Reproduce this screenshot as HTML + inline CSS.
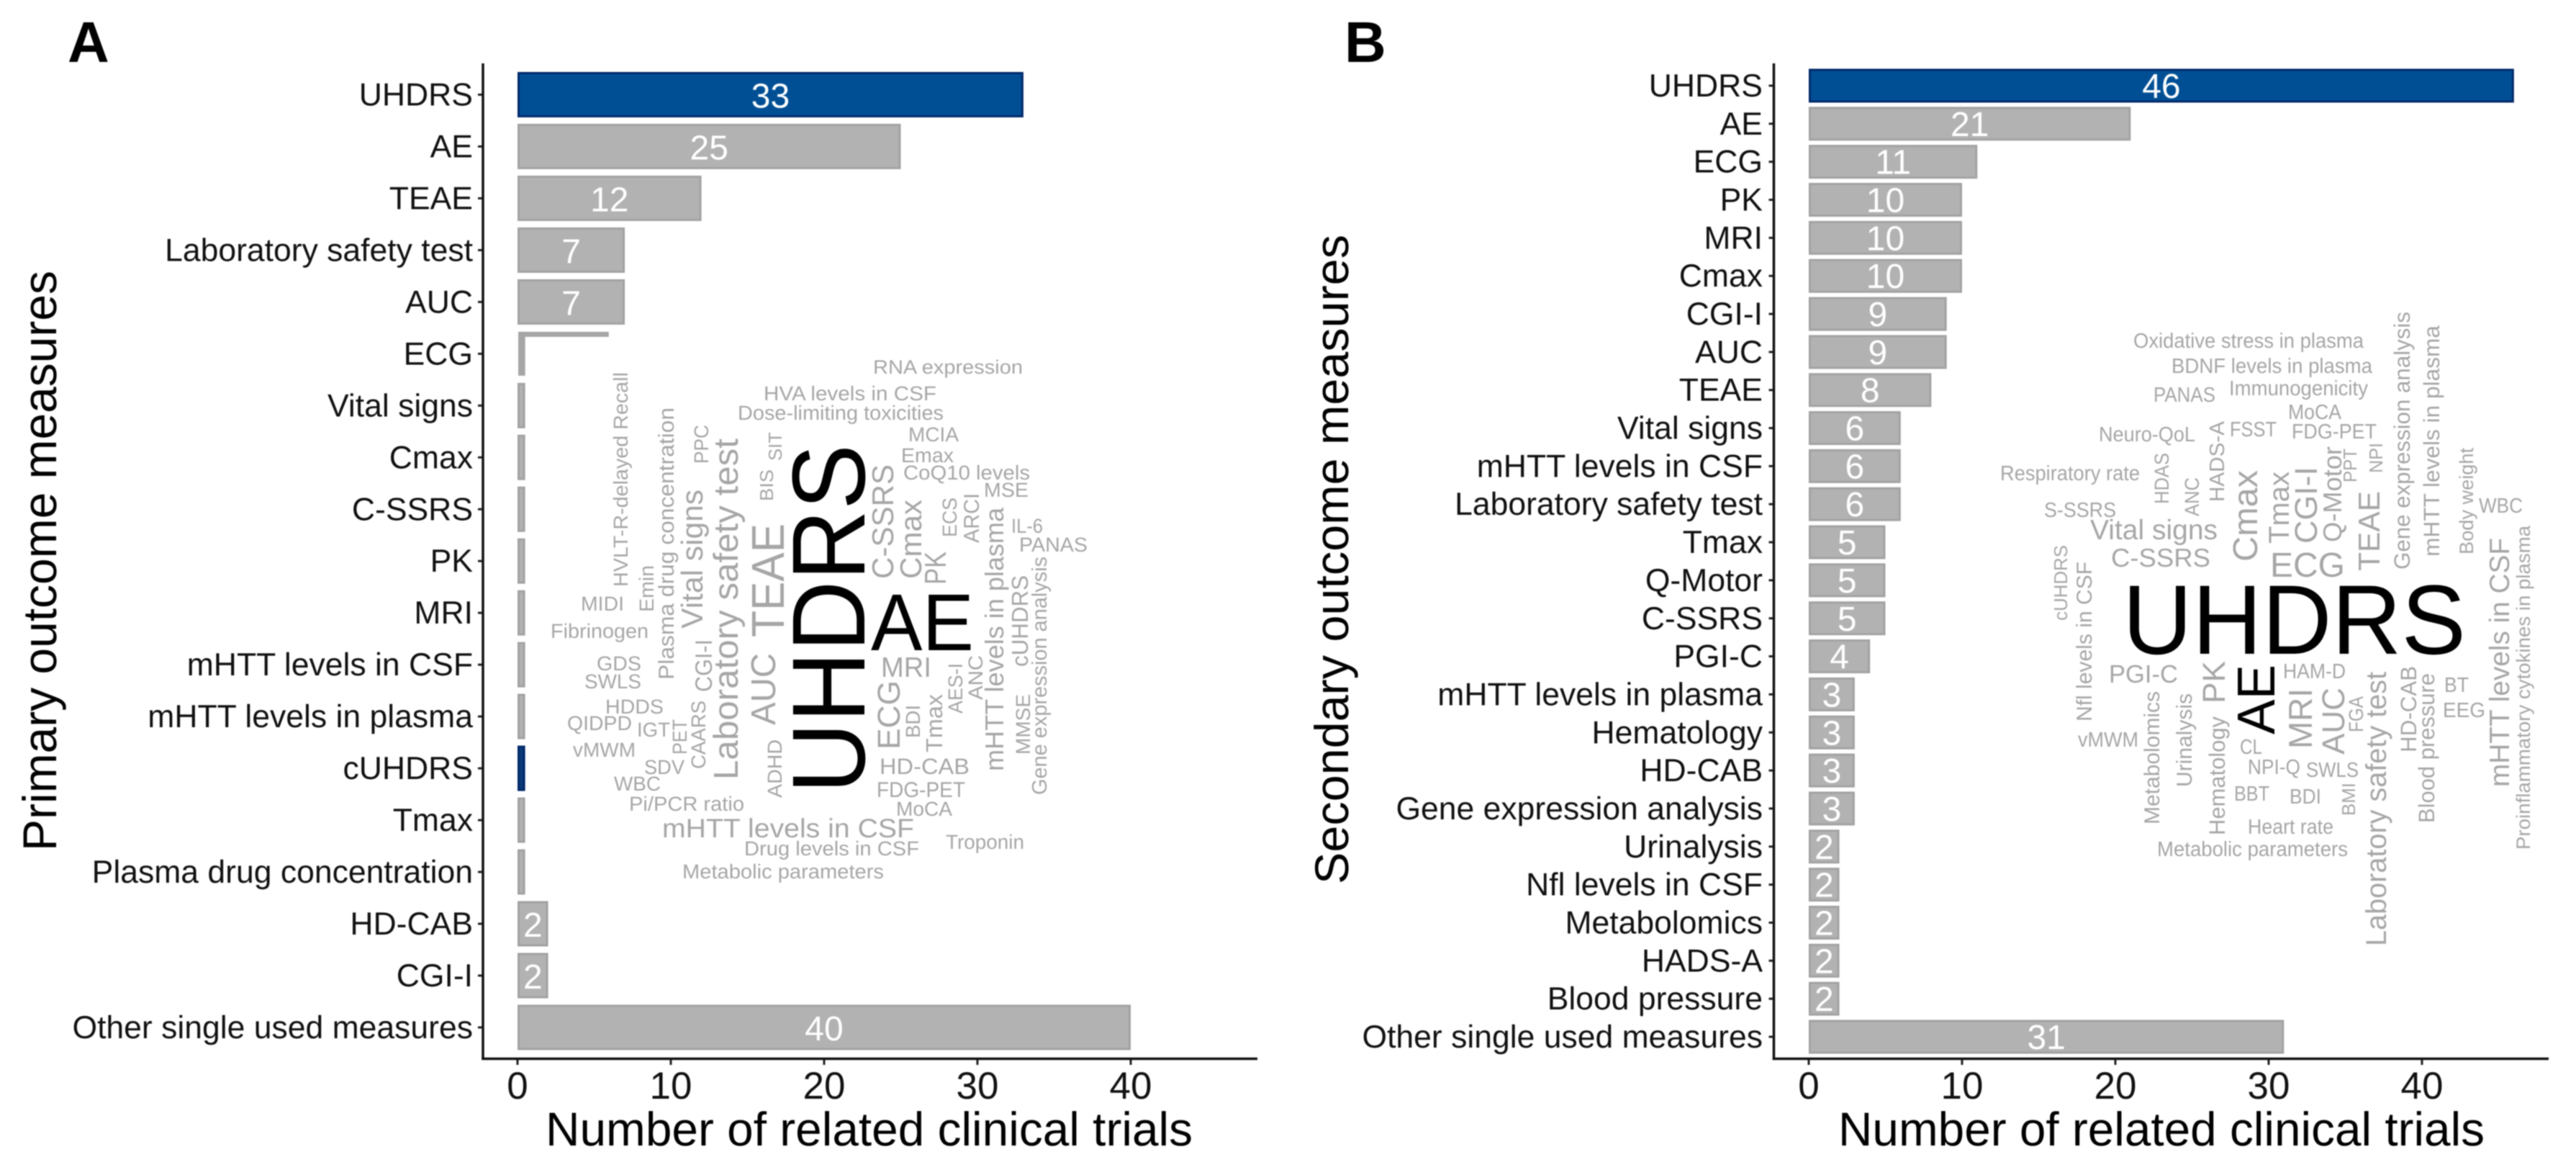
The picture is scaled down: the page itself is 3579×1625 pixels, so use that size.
<!DOCTYPE html>
<html lang="en">
<head>
<meta charset="utf-8">
<title>Outcome measures in clinical trials</title>
<style>
html,body{margin:0;padding:0;background:#fff;width:3579px;height:1625px;overflow:hidden}
svg{display:block;font-family:"Liberation Sans",sans-serif;text-rendering:geometricPrecision;filter:blur(0.7px)}
.w{fill:#a6a6a6}
.k{fill:#000}
</style>
</head>
<body>
<svg id="figure" width="3579" height="1625" viewBox="0 0 3579 1625" xmlns="http://www.w3.org/2000/svg">
<rect width="3579" height="1625" fill="#fff"/>
<text x="94" y="86" font-size="80" font-weight="700" fill="#000">A</text>
<text x="1868" y="86" font-size="80" font-weight="700" fill="#000">B</text>
<text transform="translate(78,1182) rotate(-90)" font-size="66" fill="#000" textLength="806" lengthAdjust="spacingAndGlyphs">Primary outcome measures</text>
<text transform="translate(1873,1228) rotate(-90)" font-size="66" fill="#000" textLength="902" lengthAdjust="spacingAndGlyphs">Secondary outcome measures</text>
<text x="758" y="1591" font-size="66" fill="#000" textLength="899" lengthAdjust="spacingAndGlyphs">Number of related clinical trials</text>
<text x="2554" y="1591" font-size="66" fill="#000" textLength="898" lengthAdjust="spacingAndGlyphs">Number of related clinical trials</text>
<g id="panel-a"></g>
<g id="panel-b"></g>

<g>
<text class="w" x="1213" y="519" font-size="27" textLength="208" lengthAdjust="spacingAndGlyphs">RNA expression</text>
<text class="w" x="1061" y="556" font-size="28" textLength="240" lengthAdjust="spacingAndGlyphs">HVA levels in CSF</text>
<text class="w" x="1025" y="583" font-size="28" textLength="286" lengthAdjust="spacingAndGlyphs">Dose-limiting toxicities</text>
<text class="w" x="1262" y="613" font-size="28" textLength="70" lengthAdjust="spacingAndGlyphs">MCIA</text>
<text class="w" x="1252" y="642" font-size="28" textLength="73" lengthAdjust="spacingAndGlyphs">Emax</text>
<text class="w" x="1255" y="666" font-size="28" textLength="176" lengthAdjust="spacingAndGlyphs">CoQ10 levels</text>
<text class="w" x="1367" y="690" font-size="28" textLength="62" lengthAdjust="spacingAndGlyphs">MSE</text>
<text class="w" x="1405" y="740" font-size="28" textLength="44" lengthAdjust="spacingAndGlyphs">IL-6</text>
<text class="w" x="1416" y="766" font-size="28" textLength="95" lengthAdjust="spacingAndGlyphs">PANAS</text>
<text class="w" x="807" y="848" font-size="28" textLength="60" lengthAdjust="spacingAndGlyphs">MIDI</text>
<text class="w" x="765" y="886" font-size="28" textLength="136" lengthAdjust="spacingAndGlyphs">Fibrinogen</text>
<text class="w" x="829" y="931" font-size="28" textLength="62" lengthAdjust="spacingAndGlyphs">GDS</text>
<text class="w" x="812" y="956" font-size="28" textLength="79" lengthAdjust="spacingAndGlyphs">SWLS</text>
<text class="w" x="841" y="991" font-size="28" textLength="81" lengthAdjust="spacingAndGlyphs">HDDS</text>
<text class="w" x="788" y="1014" font-size="28" textLength="90" lengthAdjust="spacingAndGlyphs">QIDPD</text>
<text class="w" x="885" y="1023" font-size="28" textLength="46" lengthAdjust="spacingAndGlyphs">IGT</text>
<text class="w" x="796" y="1051" font-size="28" textLength="87" lengthAdjust="spacingAndGlyphs">vMWM</text>
<text class="w" x="895" y="1075" font-size="28" textLength="56" lengthAdjust="spacingAndGlyphs">SDV</text>
<text class="w" x="853" y="1098" font-size="28" textLength="65" lengthAdjust="spacingAndGlyphs">WBC</text>
<text class="w" x="874" y="1126" font-size="28" textLength="160" lengthAdjust="spacingAndGlyphs">Pi/PCR ratio</text>
<text class="w" x="920" y="1163" font-size="37" textLength="350" lengthAdjust="spacingAndGlyphs">mHTT levels in CSF</text>
<text class="w" x="1034" y="1188" font-size="28" textLength="243" lengthAdjust="spacingAndGlyphs">Drug levels in CSF</text>
<text class="w" x="948" y="1220" font-size="28" textLength="280" lengthAdjust="spacingAndGlyphs">Metabolic parameters</text>
<text class="w" x="1314" y="1179" font-size="28" textLength="109" lengthAdjust="spacingAndGlyphs">Troponin</text>
<text class="w" x="1222" y="1075" font-size="31" textLength="125" lengthAdjust="spacingAndGlyphs">HD-CAB</text>
<text class="w" x="1218" y="1107" font-size="30" textLength="123" lengthAdjust="spacingAndGlyphs">FDG-PET</text>
<text class="w" x="1245" y="1133" font-size="28" textLength="78" lengthAdjust="spacingAndGlyphs">MoCA</text>
<text class="w" x="1224" y="940" font-size="39" textLength="70" lengthAdjust="spacingAndGlyphs">MRI</text>
<text class="k" x="1210" y="903" font-size="112" textLength="143" lengthAdjust="spacingAndGlyphs">AE</text>
<text class="w" transform="translate(872,815) rotate(-90)" font-size="28" textLength="298" lengthAdjust="spacingAndGlyphs">HVLT-R-delayed Recall</text>
<text class="w" transform="translate(936,944) rotate(-90)" font-size="30" textLength="378" lengthAdjust="spacingAndGlyphs">Plasma drug concentration</text>
<text class="w" transform="translate(908,850) rotate(-90)" font-size="28" textLength="65" lengthAdjust="spacingAndGlyphs">Emin</text>
<text class="w" transform="translate(984,644) rotate(-90)" font-size="28" textLength="54" lengthAdjust="spacingAndGlyphs">PPC</text>
<text class="w" transform="translate(976,873) rotate(-90)" font-size="42" textLength="193" lengthAdjust="spacingAndGlyphs">Vital signs</text>
<text class="w" transform="translate(1025,1083) rotate(-90)" font-size="48" textLength="474" lengthAdjust="spacingAndGlyphs">Laboratory safety test</text>
<text class="w" transform="translate(1074,696) rotate(-90)" font-size="26" textLength="44" lengthAdjust="spacingAndGlyphs">BIS</text>
<text class="w" transform="translate(1086,640) rotate(-90)" font-size="26" textLength="40" lengthAdjust="spacingAndGlyphs">SIT</text>
<text class="w" transform="translate(1089,885) rotate(-90)" font-size="64" textLength="158" lengthAdjust="spacingAndGlyphs">TEAE</text>
<text class="w" transform="translate(1077,1007) rotate(-90)" font-size="48" textLength="100" lengthAdjust="spacingAndGlyphs">AUC</text>
<text class="w" transform="translate(989,961) rotate(-90)" font-size="33" textLength="73" lengthAdjust="spacingAndGlyphs">CGI-I</text>
<text class="w" transform="translate(980,1068) rotate(-90)" font-size="28" textLength="95" lengthAdjust="spacingAndGlyphs">CAARS</text>
<text class="w" transform="translate(954,1048) rotate(-90)" font-size="28" textLength="49" lengthAdjust="spacingAndGlyphs">PET</text>
<text class="w" transform="translate(1086,1108) rotate(-90)" font-size="28" textLength="81" lengthAdjust="spacingAndGlyphs">ADHD</text>
<text class="k" transform="translate(1201,1102) rotate(-90)" font-size="144" textLength="485" lengthAdjust="spacingAndGlyphs">UHDRS</text>
<text class="w" transform="translate(1241,804) rotate(-90)" font-size="42" textLength="159" lengthAdjust="spacingAndGlyphs">C-SSRS</text>
<text class="w" transform="translate(1280,804) rotate(-90)" font-size="42" textLength="110" lengthAdjust="spacingAndGlyphs">Cmax</text>
<text class="w" transform="translate(1314,812) rotate(-90)" font-size="42" textLength="46" lengthAdjust="spacingAndGlyphs">PK</text>
<text class="w" transform="translate(1329,746) rotate(-90)" font-size="28" textLength="55" lengthAdjust="spacingAndGlyphs">ECS</text>
<text class="w" transform="translate(1360,754) rotate(-90)" font-size="30" textLength="69" lengthAdjust="spacingAndGlyphs">ARCI</text>
<text class="w" transform="translate(1394,1071) rotate(-90)" font-size="36" textLength="366" lengthAdjust="spacingAndGlyphs">mHTT levels in plasma</text>
<text class="w" transform="translate(1428,926) rotate(-90)" font-size="32" textLength="127" lengthAdjust="spacingAndGlyphs">cUHDRS</text>
<text class="w" transform="translate(1454,1104) rotate(-90)" font-size="29" textLength="331" lengthAdjust="spacingAndGlyphs">Gene expression analysis</text>
<text class="w" transform="translate(1431,1048) rotate(-90)" font-size="28" textLength="84" lengthAdjust="spacingAndGlyphs">MMSE</text>
<text class="w" transform="translate(1365,972) rotate(-90)" font-size="28" textLength="62" lengthAdjust="spacingAndGlyphs">ANC</text>
<text class="w" transform="translate(1337,991) rotate(-90)" font-size="28" textLength="70" lengthAdjust="spacingAndGlyphs">AES-I</text>
<text class="w" transform="translate(1309,1045) rotate(-90)" font-size="32" textLength="81" lengthAdjust="spacingAndGlyphs">Tmax</text>
<text class="w" transform="translate(1278,1025) rotate(-90)" font-size="28" textLength="46" lengthAdjust="spacingAndGlyphs">BDI</text>
<text class="w" transform="translate(1250,1041) rotate(-90)" font-size="44" textLength="96" lengthAdjust="spacingAndGlyphs">ECG</text>
</g>

<g>
<text class="w" x="2964" y="483" font-size="29" textLength="320" lengthAdjust="spacingAndGlyphs">Oxidative stress in plasma</text>
<text class="w" x="3017" y="518" font-size="29" textLength="279" lengthAdjust="spacingAndGlyphs">BDNF levels in plasma</text>
<text class="w" x="3097" y="549" font-size="29" textLength="193" lengthAdjust="spacingAndGlyphs">Immunogenicity</text>
<text class="w" x="2992" y="558" font-size="29" textLength="86" lengthAdjust="spacingAndGlyphs">PANAS</text>
<text class="w" x="3179" y="582" font-size="29" textLength="74" lengthAdjust="spacingAndGlyphs">MoCA</text>
<text class="w" x="3098" y="606" font-size="29" textLength="65" lengthAdjust="spacingAndGlyphs">FSST</text>
<text class="w" x="3184" y="609" font-size="29" textLength="118" lengthAdjust="spacingAndGlyphs">FDG-PET</text>
<text class="w" x="2916" y="613" font-size="29" textLength="134" lengthAdjust="spacingAndGlyphs">Neuro-QoL</text>
<text class="w" x="2779" y="667" font-size="29" textLength="194" lengthAdjust="spacingAndGlyphs">Respiratory rate</text>
<text class="w" x="2840" y="718" font-size="29" textLength="100" lengthAdjust="spacingAndGlyphs">S-SSRS</text>
<text class="w" x="2904" y="749" font-size="39" textLength="177" lengthAdjust="spacingAndGlyphs">Vital signs</text>
<text class="w" x="2933" y="787" font-size="36" textLength="138" lengthAdjust="spacingAndGlyphs">C-SSRS</text>
<text class="w" x="3154" y="801" font-size="48" textLength="104" lengthAdjust="spacingAndGlyphs">ECG</text>
<text class="w" x="3444" y="712" font-size="29" textLength="61" lengthAdjust="spacingAndGlyphs">WBC</text>
<text class="k" x="2949" y="908" font-size="137" textLength="477" lengthAdjust="spacingAndGlyphs">UHDRS</text>
<text class="w" x="2930" y="948" font-size="35" textLength="96" lengthAdjust="spacingAndGlyphs">PGI-C</text>
<text class="w" x="3172" y="942" font-size="29" textLength="87" lengthAdjust="spacingAndGlyphs">HAM-D</text>
<text class="w" x="3396" y="961" font-size="29" textLength="34" lengthAdjust="spacingAndGlyphs">BT</text>
<text class="w" x="3394" y="996" font-size="29" textLength="59" lengthAdjust="spacingAndGlyphs">EEG</text>
<text class="w" x="2887" y="1037" font-size="29" textLength="84" lengthAdjust="spacingAndGlyphs">vMWM</text>
<text class="w" x="3123" y="1075" font-size="29" textLength="73" lengthAdjust="spacingAndGlyphs">NPI-Q</text>
<text class="w" x="3204" y="1079" font-size="29" textLength="73" lengthAdjust="spacingAndGlyphs">SWLS</text>
<text class="w" x="3112" y="1047" font-size="29" textLength="31" lengthAdjust="spacingAndGlyphs">CL</text>
<text class="w" x="3104" y="1112" font-size="29" textLength="49" lengthAdjust="spacingAndGlyphs">BBT</text>
<text class="w" x="3181" y="1116" font-size="29" textLength="44" lengthAdjust="spacingAndGlyphs">BDI</text>
<text class="w" x="3123" y="1158" font-size="29" textLength="119" lengthAdjust="spacingAndGlyphs">Heart rate</text>
<text class="w" x="2997" y="1189" font-size="29" textLength="265" lengthAdjust="spacingAndGlyphs">Metabolic parameters</text>
<text class="w" transform="translate(3348,791) rotate(-90)" font-size="31" textLength="358" lengthAdjust="spacingAndGlyphs">Gene expression analysis</text>
<text class="w" transform="translate(3389,773) rotate(-90)" font-size="31" textLength="321" lengthAdjust="spacingAndGlyphs">mHTT levels in plasma</text>
<text class="w" transform="translate(3090,697) rotate(-90)" font-size="29" textLength="112" lengthAdjust="spacingAndGlyphs">HADS-A</text>
<text class="w" transform="translate(3013,700) rotate(-90)" font-size="28" textLength="71" lengthAdjust="spacingAndGlyphs">HDAS</text>
<text class="w" transform="translate(3055,717) rotate(-90)" font-size="28" textLength="54" lengthAdjust="spacingAndGlyphs">ANC</text>
<text class="w" transform="translate(3136,780) rotate(-90)" font-size="48" textLength="127" lengthAdjust="spacingAndGlyphs">Cmax</text>
<text class="w" transform="translate(3180,755) rotate(-90)" font-size="40" textLength="100" lengthAdjust="spacingAndGlyphs">Tmax</text>
<text class="w" transform="translate(3219,755) rotate(-90)" font-size="44" textLength="107" lengthAdjust="spacingAndGlyphs">CGI-I</text>
<text class="w" transform="translate(3253,753) rotate(-90)" font-size="36" textLength="133" lengthAdjust="spacingAndGlyphs">Q-Motor</text>
<text class="w" transform="translate(3274,670) rotate(-90)" font-size="26" textLength="47" lengthAdjust="spacingAndGlyphs">PPT</text>
<text class="w" transform="translate(3310,657) rotate(-90)" font-size="26" textLength="42" lengthAdjust="spacingAndGlyphs">NPI</text>
<text class="w" transform="translate(3306,793) rotate(-90)" font-size="42" textLength="111" lengthAdjust="spacingAndGlyphs">TEAE</text>
<text class="w" transform="translate(3436,770) rotate(-90)" font-size="27" textLength="148" lengthAdjust="spacingAndGlyphs">Body weight</text>
<text class="w" transform="translate(2872,862) rotate(-90)" font-size="26" textLength="105" lengthAdjust="spacingAndGlyphs">cUHDRS</text>
<text class="w" transform="translate(2906,1002) rotate(-90)" font-size="30" textLength="222" lengthAdjust="spacingAndGlyphs">Nfl levels in CSF</text>
<text class="w" transform="translate(3486,1093) rotate(-90)" font-size="39" textLength="346" lengthAdjust="spacingAndGlyphs">mHTT levels in CSF</text>
<text class="w" transform="translate(3515,1180) rotate(-90)" font-size="27" textLength="450" lengthAdjust="spacingAndGlyphs">Proinflammatory cytokines in plasma</text>
<text class="w" transform="translate(3000,1145) rotate(-90)" font-size="30" textLength="185" lengthAdjust="spacingAndGlyphs">Metabolomics</text>
<text class="w" transform="translate(3045,1093) rotate(-90)" font-size="30" textLength="130" lengthAdjust="spacingAndGlyphs">Urinalysis</text>
<text class="w" transform="translate(3091,977) rotate(-90)" font-size="44" textLength="59" lengthAdjust="spacingAndGlyphs">PK</text>
<text class="w" transform="translate(3091,1160) rotate(-90)" font-size="31" textLength="165" lengthAdjust="spacingAndGlyphs">Hematology</text>
<text class="k" transform="translate(3160,1020) rotate(-90)" font-size="74" textLength="97" lengthAdjust="spacingAndGlyphs">AE</text>
<text class="w" transform="translate(3212,1040) rotate(-90)" font-size="46" textLength="84" lengthAdjust="spacingAndGlyphs">MRI</text>
<text class="w" transform="translate(3257,1048) rotate(-90)" font-size="44" textLength="93" lengthAdjust="spacingAndGlyphs">AUC</text>
<text class="w" transform="translate(3283,1017) rotate(-90)" font-size="28" textLength="50" lengthAdjust="spacingAndGlyphs">FGA</text>
<text class="w" transform="translate(3272,1133) rotate(-90)" font-size="26" textLength="46" lengthAdjust="spacingAndGlyphs">BMI</text>
<text class="w" transform="translate(3315,1314) rotate(-90)" font-size="40" textLength="381" lengthAdjust="spacingAndGlyphs">Laboratory safety test</text>
<text class="w" transform="translate(3357,1045) rotate(-90)" font-size="31" textLength="120" lengthAdjust="spacingAndGlyphs">HD-CAB</text>
<text class="w" transform="translate(3382,1143) rotate(-90)" font-size="31" textLength="208" lengthAdjust="spacingAndGlyphs">Blood pressure</text>
</g>
</svg>

<script>
// Panel A data. Most middle bars are cut off by the word cloud in the figure,
// so those values are the visible stub; ECG still shows its full-length top edge.
const primaryCategories = ["UHDRS","AE","TEAE","Laboratory safety test","AUC","ECG","Vital signs","Cmax","C-SSRS","PK","MRI","mHTT levels in CSF","mHTT levels in plasma","cUHDRS","Tmax","Plasma drug concentration","HD-CAB","CGI-I","Other single used measures"];
const primaryValues = [33,25,12,7,7,6,0.5,0.5,0.5,0.5,0.5,0.5,0.5,0.5,0.5,0.5,2,2,40];
const primaryHighlighted = ["UHDRS","cUHDRS"];
const primaryCutByCloud = ["ECG"];

// Panel B data
const secondaryCategories = ["UHDRS","AE","ECG","PK","MRI","Cmax","CGI-I","AUC","TEAE","Vital signs","mHTT levels in CSF","Laboratory safety test","Tmax","Q-Motor","C-SSRS","PGI-C","mHTT levels in plasma","Hematology","HD-CAB","Gene expression analysis","Urinalysis","Nfl levels in CSF","Metabolomics","HADS-A","Blood pressure","Other single used measures"];
const secondaryValues = [46,21,11,10,10,10,9,9,8,6,6,6,5,5,5,4,3,3,3,3,2,2,2,2,2,31];
const secondaryHighlighted = ["UHDRS"];
const secondaryCutByCloud = [];

const xTickValues = [0,10,20,30,40];

const SVGNS = "http://www.w3.org/2000/svg";
function make(tag, parent, attrs, text) {
  const el = document.createElementNS(SVGNS, tag);
  for (const k in attrs) el.setAttribute(k, attrs[k]);
  if (text !== undefined) el.textContent = text;
  parent.appendChild(el);
  return el;
}

function drawPanel(root, layout, categories, values, highlighted, cutByCloud, key) {
  const xScale = v => layout.x0 + v * layout.unit;
  const yScale = i => layout.firstY + i * layout.step;

  categories.forEach((name, i) => {
    const v = values[i];
    const cy = yScale(i);
    const top = cy - layout.barH / 2;
    const hi = highlighted.includes(name);
    const fill = hi ? (name === "cUHDRS" ? "#0b3a78" : "#004f95") : "#b2b2b2";
    const edge = hi ? "#00296b" : "#a2a2a2";
    const cut = cutByCloud.includes(name);
    const barW = xScale(v) - xScale(0);

    if (cut) {
      const strip = make("rect", root, {x: xScale(0)+1, y: top+1, width: barW-2, height: 7, fill: "#a6a6a6"});
      
      
      const stem = make("rect", root, {x: xScale(0)+1, y: top+1, width: layout.unit*0.5-1, height: layout.barH-2, fill: "#a6a6a6"});
      
      
    } else {
      const bar = make("rect", root, {x: xScale(0)+1.5, y: top+1.5, width: Math.max(barW-3, 1), height: layout.barH-3, fill: fill, stroke: edge, "stroke-width": 3});
      
      
    }

    if (v >= 2 && !cut) {
      const label = make("text", root, {x: xScale(v/2), y: cy + layout.valueDy, "text-anchor": "middle", "font-size": 48, fill: "#fff"}, String(v));
      
      
    }

    const tick = make("line", root, {x1: layout.axisX-7, x2: layout.axisX, y1: cy, y2: cy, stroke: "#222", "stroke-width": 3});
    
    

    const catLabel = make("text", root, {x: layout.labelX, y: cy + 15, "text-anchor": "end", "font-size": 44.5, fill: "#111"}, name);
    
    
  });

  const yAxis = make("line", root, {x1: layout.axisX, x2: layout.axisX, y1: 88, y2: 1472, stroke: "#111", "stroke-width": 3.5});
  
  

  const xAxis = make("line", root, {x1: layout.axisX-1.7, x2: layout.axisEnd, y1: 1470.5, y2: 1470.5, stroke: "#111", "stroke-width": 3.5});
  
  

  xTickValues.forEach(t => {
    const tick = make("line", root, {x1: xScale(t), x2: xScale(t), y1: 1472, y2: 1479, stroke: "#222", "stroke-width": 3});
    
    
    const label = make("text", root, {x: xScale(t), y: 1526, "text-anchor": "middle", "font-size": 53, fill: "#111"}, String(t));
    
    
  });
}

drawPanel(document.getElementById("panel-a"),
  {x0: 719, unit: 21.3, firstY: 131.5, step: 71.97, barH: 63, axisX: 671, axisEnd: 1747, labelX: 657, valueDy: 18},
  primaryCategories, primaryValues, primaryHighlighted, primaryCutByCloud, "primary");
drawPanel(document.getElementById("panel-b"),
  {x0: 2513, unit: 21.3, firstY: 119, step: 52.84, barH: 47, axisX: 2464.5, axisEnd: 3541, labelX: 2449, valueDy: 17},
  secondaryCategories, secondaryValues, secondaryHighlighted, secondaryCutByCloud, "secondary");
</script>
</body>
</html>
